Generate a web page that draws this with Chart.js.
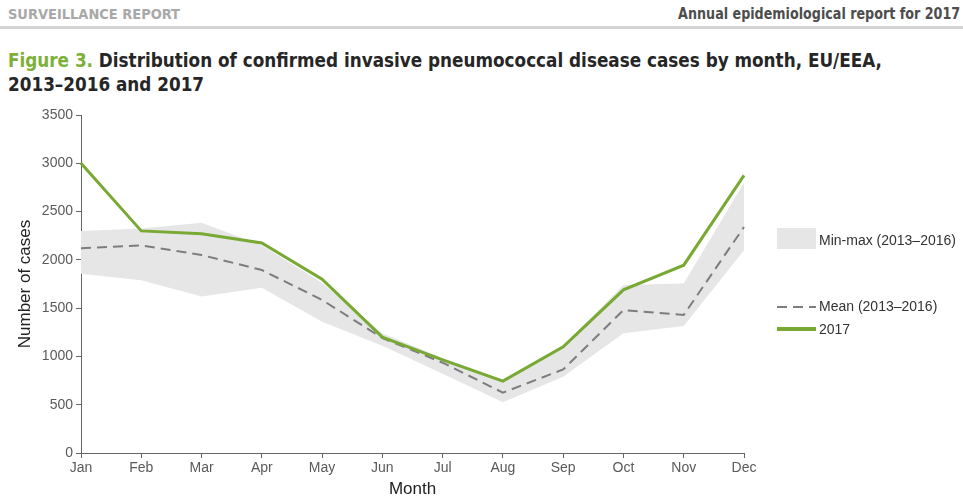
<!DOCTYPE html>
<html>
<head>
<meta charset="utf-8">
<script src="https://cdn.jsdelivr.net/npm/chart.js@4/dist/chart.umd.min.js"></script>
<style>
  html, body { margin: 0; padding: 0; background: #fff; }
  body { width: 963px; height: 497px; position: relative; overflow: hidden; }
  .cond { font-family: "Liberation Sans Narrow", "DejaVu Sans Condensed", "Liberation Sans", sans-serif; font-weight: bold; white-space: nowrap; position: absolute; display: inline-block; }
  #hdrLeft { left: 8px; top: 6px; font-size: 14px; color: #a8a8a8; transform-origin: left center; }
  #hdrRight { right: 3px; top: 5px; font-size: 15px; color: #4d4d4d; transform-origin: right center; }
  #rule { position: absolute; left: 0; top: 26px; width: 963px; height: 3px; background: #d4d4d4; }
  .title { left: 8px; font-size: 20px; color: #262626; transform-origin: left center; }
  #title1 { top: 48px; }
  #title2 { top: 72px; }
  .fig { color: #7cb037; }
  #chartBox { position: absolute; left: 0; top: 100px; width: 963px; height: 397px; }
</style>
</head>
<body>
<span id="hdrLeft" class="cond">SURVEILLANCE REPORT</span>
<span id="hdrRight" class="cond">Annual epidemiological report for 2017</span>
<div id="rule"></div>
<span id="title1" class="cond title"><span class="fig">Figure 3.</span> Distribution of confirmed invasive pneumococcal disease cases by month, EU/EEA,</span>
<span id="title2" class="cond title">2013–2016 and 2017</span>
<div id="chartBox"><canvas id="chart"></canvas></div>
<script>
// Monthly case counts, EU/EEA
const months = ['Jan', 'Feb', 'Mar', 'Apr', 'May', 'Jun', 'Jul', 'Aug', 'Sep', 'Oct', 'Nov', 'Dec'];
const cases2017 = [3000, 2300, 2270, 2175, 1800, 1200, 965, 745, 1100, 1690, 1945, 2875];
const mean2013to2016 = [2120, 2150, 2050, 1895, 1585, 1190, 935, 625, 865, 1480, 1430, 2340];
const max2013to2016 = [2300, 2325, 2385, 2150, 1760, 1240, 985, 760, 1110, 1740, 1755, 2800];
const min2013to2016 = [1855, 1790, 1620, 1710, 1360, 1110, 820, 525, 790, 1240, 1315, 2100];
const yTicks = [0, 500, 1000, 1500, 2000, 2500, 3000, 3500];

// Squeeze the condensed headings to their set widths
function fitWidth(el, target) {
  const w = el.getBoundingClientRect().width;
  if (w > 0) el.style.transform = 'scaleX(' + (target / w) + ')';
  return target / w;
}
fitWidth(document.getElementById('hdrLeft'), 172);
fitWidth(document.getElementById('hdrRight'), 282);
const k = fitWidth(document.getElementById('title1'), 874);
document.getElementById('title2').style.transform = 'scaleX(' + k + ')';

const GREEN = '#78a933';
const DASH_GREY = '#7d7d80';
const BAND = '#e6e6e6';
const AXIS = '#666666';
const TICK_TXT = '#5a5a5a';
const FONT = '"Liberation Sans", Arial, sans-serif';

// Legend placed to the right of the plot, with a gap after the band entry
const sideLegend = {
  id: 'sideLegend',
  afterDraw(chart) {
    const ctx = chart.ctx;
    const ds = chart.data.datasets;
    const x0 = chart.chartArea.right + 33;
    const sw = 39;
    ctx.save();
    ctx.font = '14px ' + FONT;
    ctx.textBaseline = 'middle';
    // band
    ctx.fillStyle = ds[2].backgroundColor;
    ctx.fillRect(x0, 128, sw, 21);
    ctx.fillStyle = '#333333';
    ctx.fillText(ds[2].label, x0 + sw + 3, 141);
    // mean
    ctx.strokeStyle = ds[1].borderColor;
    ctx.lineWidth = 2;
    ctx.setLineDash([10, 6]);
    ctx.beginPath(); ctx.moveTo(x0, 207); ctx.lineTo(x0 + sw, 207); ctx.stroke();
    ctx.setLineDash([]);
    ctx.fillText(ds[1].label, x0 + sw + 3, 207);
    // 2017
    ctx.strokeStyle = ds[0].borderColor;
    ctx.lineWidth = 4;
    ctx.beginPath(); ctx.moveTo(x0, 229); ctx.lineTo(x0 + sw, 229); ctx.stroke();
    ctx.fillText(ds[0].label, x0 + sw + 3, 230);
    ctx.restore();
  }
};

new Chart(document.getElementById('chart'), {
  type: 'line',
  data: {
    labels: months,
    datasets: [
      { label: '2017', data: cases2017, borderColor: GREEN, borderWidth: 3, pointRadius: 0, fill: false, tension: 0 },
      { label: 'Mean (2013–2016)', data: mean2013to2016, borderColor: DASH_GREY, borderWidth: 2, borderDash: [10, 6], pointRadius: 0, fill: false, tension: 0 },
      { label: 'Min-max (2013–2016)', data: max2013to2016, borderWidth: 0, borderColor: 'rgba(0,0,0,0)', backgroundColor: BAND, pointRadius: 0, fill: '+1', tension: 0 },
      { label: 'Min (2013–2016)', data: min2013to2016, borderWidth: 0, borderColor: 'rgba(0,0,0,0)', pointRadius: 0, fill: false, tension: 0 }
    ]
  },
  options: {
    responsive: true,
    maintainAspectRatio: false,
    animation: false,
    layout: { padding: { left: 17, top: 15, right: 219, bottom: 0 } },
    plugins: { legend: { display: false }, tooltip: { enabled: false } },
    scales: {
      x: {
        offset: false,
        grid: { drawOnChartArea: false, drawTicks: true, tickLength: 5, color: AXIS },
        border: { color: AXIS, width: 1 },
        ticks: { color: TICK_TXT, font: { size: 14, family: FONT }, padding: 2, maxRotation: 0, autoSkip: false },
        title: { display: true, text: 'Month', color: '#222222', font: { size: 17, family: FONT, lineHeight: 1 }, padding: { top: 0, bottom: -1 } },
        afterFit(scale) { scale.height = 44; }
      },
      y: {
        min: 0,
        max: 3500,
        afterBuildTicks(scale) { scale.ticks = yTicks.map(v => ({ value: v })); },
        grid: { drawOnChartArea: false, drawTicks: true, tickLength: 5, color: AXIS },
        border: { color: AXIS, width: 1 },
        ticks: { color: TICK_TXT, font: { size: 14, family: FONT }, padding: 3, callback: v => String(v) },
        title: { display: true, text: 'Number of cases', color: '#222222', font: { size: 17, family: FONT, lineHeight: 1 }, padding: { top: 0, bottom: 0 } },
        afterFit(scale) { scale.width = 64; }
      }
    }
  },
  plugins: [sideLegend]
});
</script>
</body>
</html>
